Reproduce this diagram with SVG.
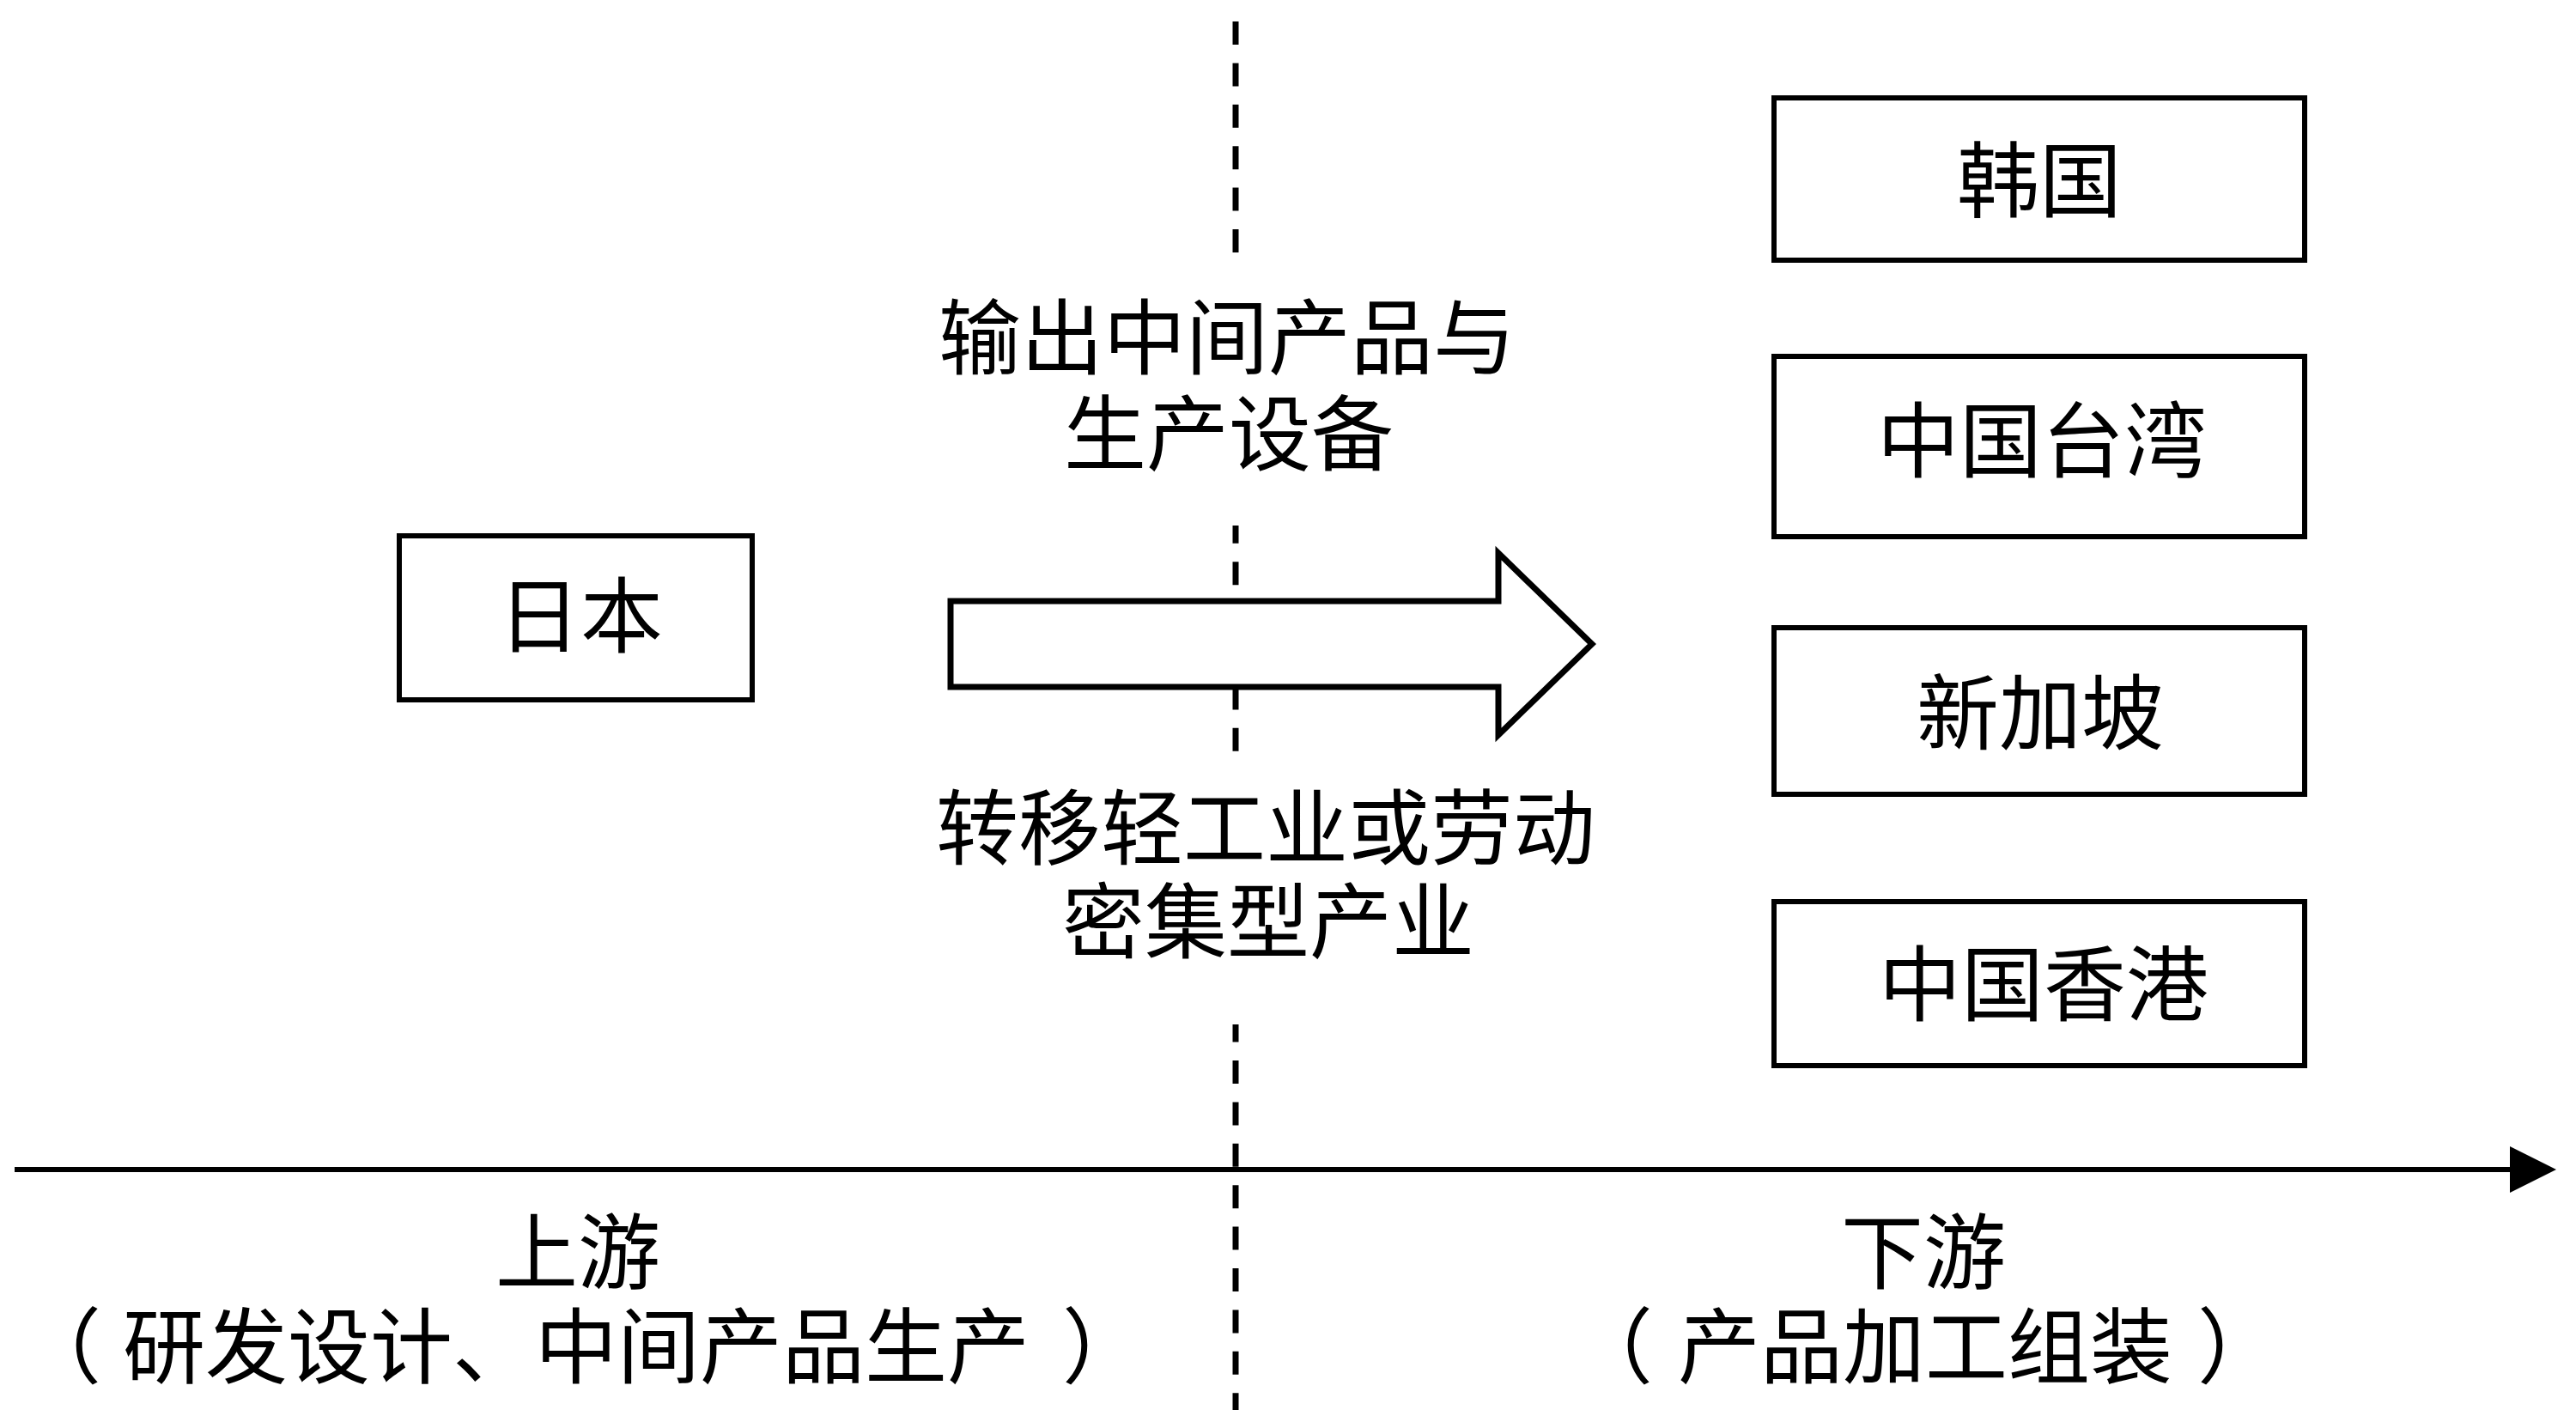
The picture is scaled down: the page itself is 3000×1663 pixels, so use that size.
<svg xmlns="http://www.w3.org/2000/svg" width="3000" height="1663" viewBox="0 0 3000 1663">
  <style>
    .box { fill: #ffffff; stroke: #000000; stroke-width: 6; }
    .lbl { font-family: "Liberation Serif", "Noto Sans CJK SC", serif; font-size: 96px; fill: #000000; text-anchor: middle; }
    .start { text-anchor: start; }
    .bg { fill: #ffffff; stroke: none; }
    .dash { stroke: #000000; stroke-width: 7; stroke-dasharray: 27 21.4; fill: none; }
    .axis { stroke: #000000; stroke-width: 6; fill: none; }
    .bigarrow { fill: #ffffff; stroke: #000000; stroke-width: 7; stroke-linejoin: miter; }
  </style>
  <defs>
    <marker id="axisHead" markerUnits="userSpaceOnUse" markerWidth="56" markerHeight="56" refX="0" refY="27" orient="auto" overflow="visible">
      <path d="M0,0 L54,27 L0,54 Z" fill="#000000"/>
    </marker>
  </defs>
  <rect width="3000" height="1663" fill="#ffffff"/>

  <g id="connectors">
    <line id="divider" class="dash" x1="1439" y1="25" x2="1439" y2="1642"/>
    <line id="axis" class="axis" x1="17" y1="1362" x2="2923" y2="1362" marker-end="url(#axisHead)"/>
    <polygon id="flow-arrow" class="bigarrow" points="1107,700 1745,700 1745,644 1854,750 1745,856 1745,800 1107,800"/>
  </g>

  <g id="label-export">
    <rect class="bg" x="1080" y="302" width="700" height="310"/>
    <text class="lbl" x="1429" y="428">输出中间产品与</text>
    <text class="lbl" x="1431" y="540">生产设备</text>
  </g>

  <g id="label-transfer">
    <rect class="bg" x="1080" y="882" width="790" height="311"/>
    <text class="lbl" x="1474" y="999">转移轻工业或劳动</text>
    <text class="lbl" x="1477" y="1108">密集型产业</text>
  </g>

  <g id="node-japan">
    <rect class="box" x="465" y="624" width="411" height="191"/>
    <text class="lbl" x="676" y="752">日本</text>
  </g>

  <g id="node-korea">
    <rect class="box" x="2066" y="114" width="618" height="189"/>
    <text class="lbl" x="2375" y="245">韩国</text>
  </g>

  <g id="node-taiwan">
    <rect class="box" x="2066" y="415" width="618" height="210"/>
    <text class="lbl" x="2378" y="548">中国台湾</text>
  </g>

  <g id="node-singapore">
    <rect class="box" x="2066" y="731" width="618" height="194"/>
    <text class="lbl" x="2376" y="865">新加坡</text>
  </g>

  <g id="node-hongkong">
    <rect class="box" x="2066" y="1050" width="618" height="191"/>
    <text class="lbl" x="2380" y="1181">中国香港</text>
  </g>

  <g id="label-upstream">
    <text class="lbl" x="673" y="1493">上游</text>
    <text class="lbl start" x="22" y="1603">（<tspan x="143">研发设计、中间产品生产</tspan><tspan dx="38">）</tspan></text>
  </g>

  <g id="label-downstream">
    <text class="lbl" x="2240" y="1493">下游</text>
    <text class="lbl start" x="1829" y="1603">（<tspan x="1954">产品加工组装</tspan><tspan dx="29">）</tspan></text>
  </g>
</svg>
